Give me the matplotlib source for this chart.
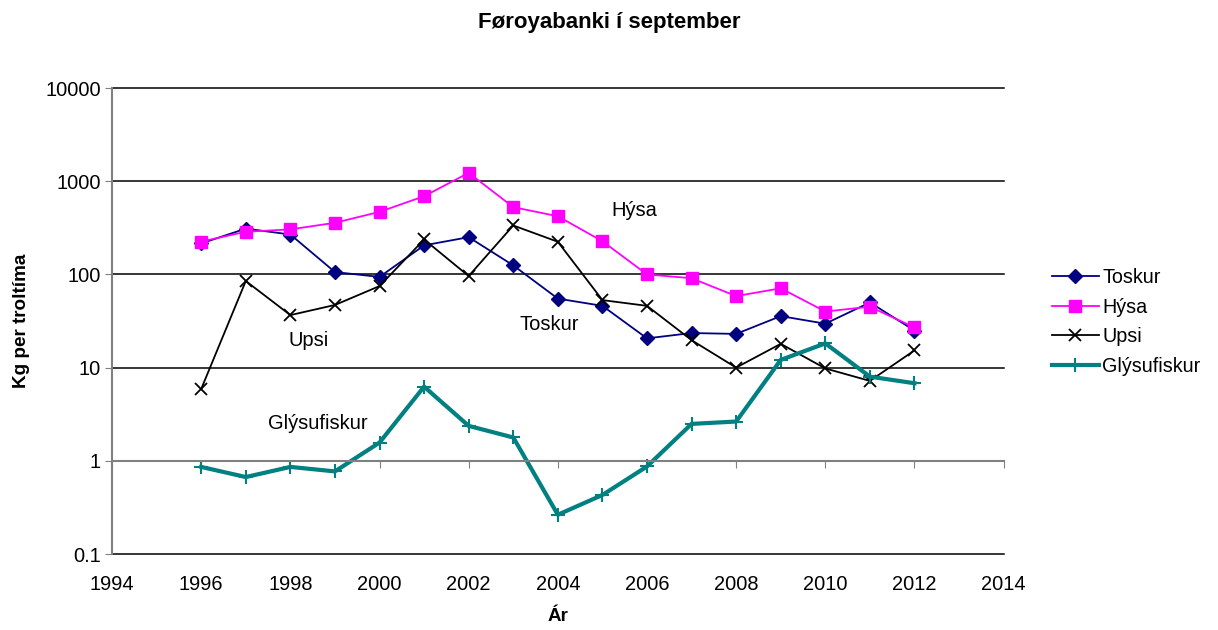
import numpy as np
import matplotlib.pyplot as plt

plt.rcParams['font.family'] = ['Liberation Sans', 'DejaVu Sans']

years = np.arange(1996, 2013)
toskur = [215, 310, 268, 106, 94, 205, 251, 125, 55, 46, 20.6, 23.5, 23, 35.7, 29.6, 50, 25]
hysa = [225, 287, 304, 358, 469, 690, 1230, 527, 421, 227, 100, 91, 58.5, 71, 40, 45, 27]
upsi = [5.9, 85, 36.6, 47, 75, 237, 96, 335, 224, 53, 46, 19.7, 10, 18, 9.8, 7.2, 15.3]
glysufiskur = [0.86, 0.67, 0.86, 0.77, 1.57, 6.25, 2.37, 1.78, 0.264, 0.43, 0.87, 2.49, 2.64, 12.1, 18.2, 8.0, 6.8]

xticks = np.arange(1994, 2015, 2)
yticks = [0.1, 1, 10, 100, 1000, 10000]

fig = plt.figure(figsize=(12.18, 6.3), dpi=100)
ax = fig.add_axes([0.092, 0.1206, 0.732, 0.7397])

ax.plot(years, toskur, color='#000080', lw=1.3, marker='D', ms=7, label='Toskur')
ax.plot(years, hysa, color='#FF00FF', lw=1.3, marker='s', ms=8.5, label='Hýsa')
ax.plot(years, upsi, color='black', lw=1.3, marker='x', ms=8, mew=1.3, label='Upsi')
ax.plot(years, glysufiskur, color='#008080', lw=3, marker='+', ms=10, mew=1.5, label='Glýsufiskur')

ax.set_yscale('log')
ax.set_ylim(0.1, 10000)
ax.set_xlim(1994, 2014)
ax.set_yticks(yticks)
ax.set_yticklabels(['0.1', '1', '10', '100', '1000', '10000'])
ax.yaxis.set_minor_locator(plt.NullLocator())
for v in yticks:
    ax.axhline(v, color='black', lw=1.1, zorder=0, clip_on=False)

for s in ['top', 'right']:
    ax.spines[s].set_visible(False)
ax.spines['left'].set_color('#808080')
ax.spines['left'].set_linewidth(1.5)
ax.spines['bottom'].set_position(('data', 1))
ax.spines['bottom'].set_color('#808080')
ax.spines['bottom'].set_linewidth(1.5)
ax.set_xticks(xticks)
ax.tick_params(axis='x', direction='out', length=5, color='#808080', labelbottom=False)
ax.tick_params(axis='y', direction='out', length=5, color='#808080', labelsize=14.4, pad=3)

sec = ax.secondary_xaxis(0)
sec.set_xticks(xticks)
sec.tick_params(length=0, labelsize=14.4, pad=15)
sec.spines['bottom'].set_visible(False)

ax.text(2005.2, 484, 'Hýsa', fontsize=14.5, va='center')
ax.text(2003.15, 29, 'Toskur', fontsize=14.5, va='center')
ax.text(1997.95, 19.6, 'Upsi', fontsize=14.5, va='center')
ax.text(1997.5, 2.5, 'Glýsufiskur', fontsize=14.5, va='center')

fig.text(0.5, 0.965, 'Føroyabanki í september', ha='center', va='center', fontsize=16, fontweight='bold')
fig.text(0.018, 0.49, 'Kg per troltíma', rotation=90, ha='center', va='center', fontsize=13.6, fontweight='bold')
fig.text(0.458, 0.022, 'Ár', ha='center', va='center', fontsize=13.6, fontweight='bold')

fig.legend(loc='center left', bbox_to_anchor=(0.857, 0.489), frameon=False, fontsize=14.2,
           handlelength=2.4, handletextpad=0.15, labelspacing=0.55, borderaxespad=0)

fig.savefig('out.png', dpi=100)
